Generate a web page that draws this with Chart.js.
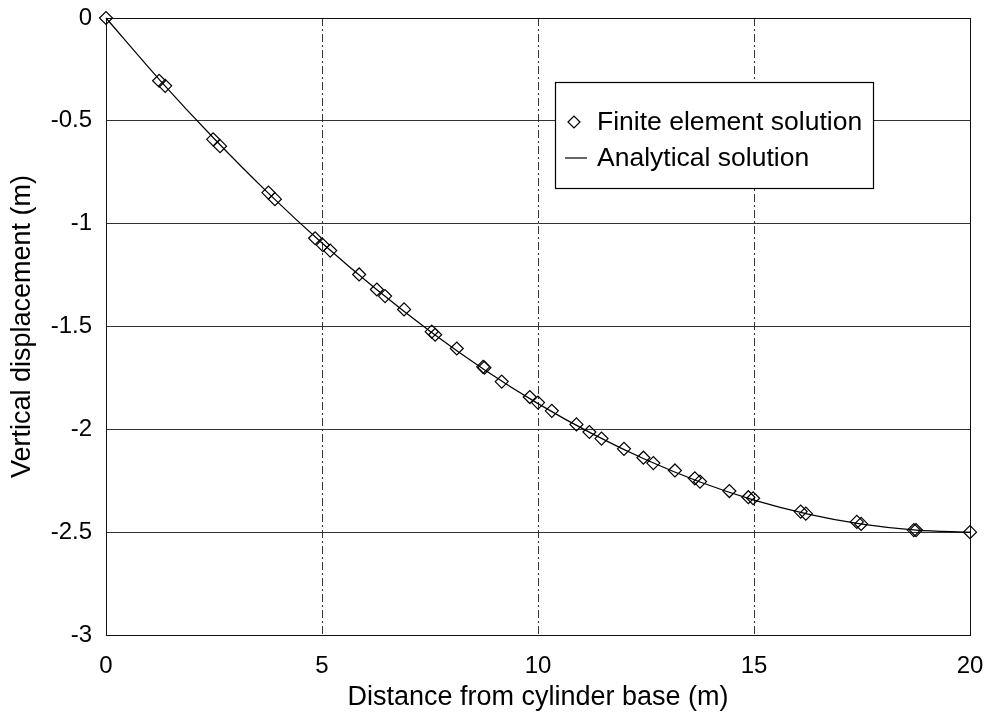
<!DOCTYPE html>
<html>
<head>
<meta charset="utf-8">
<title>Vertical displacement</title>
<script src="https://cdn.jsdelivr.net/npm/chart.js@4.4.1/dist/chart.umd.min.js"></script>
<style>
  body { margin: 0; background: #fff; }
  #wrap { width: 988px; height: 716px; }
</style>
</head>
<body>
<div id="wrap"><canvas id="dispChart" width="988" height="716"></canvas></div>
<script>
// ---- data ----
const feX = [0, 1.23, 1.37, 2.48, 2.64, 3.76, 3.91, 4.84, 5.02, 5.19, 5.86, 6.27, 6.46, 6.90,
  7.54, 7.62, 8.12, 8.73, 8.76, 9.16, 9.81, 10.0, 10.32, 10.89, 11.19, 11.47, 11.99, 12.44,
  12.67, 13.17, 13.63, 13.75, 14.43, 14.87, 14.98, 16.08, 16.20, 17.38, 17.48, 18.70, 18.75, 20];
const feY = [0, -0.305, -0.33, -0.59, -0.623, -0.849, -0.881, -1.071, -1.104, -1.131, -1.247, -1.32, -1.352, -1.417,
  -1.525, -1.54, -1.607, -1.696, -1.70, -1.768, -1.843, -1.87, -1.91, -1.976, -2.013, -2.045, -2.095, -2.138,
  -2.164, -2.20, -2.238, -2.254, -2.30, -2.33, -2.335, -2.40, -2.41, -2.45, -2.46, -2.49, -2.49, -2.5];

const anX = [0, 1.25, 2.5, 3.75, 5, 6.25, 7.5, 8.75, 10, 11.25, 12.5, 13.75, 15, 16.25, 17.5, 18.75, 20];
const anY = [0, -0.303, -0.586, -0.850, -1.094, -1.318, -1.523, -1.709, -1.875, -2.021, -2.148, -2.256,
  -2.344, -2.412, -2.461, -2.490, -2.500];

const xTicks = [0, 5, 10, 15, 20];
const yTicks = [0, -0.5, -1, -1.5, -2, -2.5, -3];

const seriesLabels = ['Finite element solution', 'Analytical solution'];
const xTitle = 'Distance from cylinder base (m)';
const yTitle = 'Vertical displacement (m)';

const FONT = '"Liberation Sans", Arial, Helvetica, sans-serif';

// frame around the plot (top + right edges are solid in the original)
const plotFrame = {
  id: 'plotFrame',
  beforeDatasetsDraw(chart) {
    const { ctx, chartArea: a } = chart;
    ctx.save();
    ctx.strokeStyle = '#111';
    ctx.lineWidth = 1;
    ctx.setLineDash([]);
    ctx.strokeRect(Math.round(a.left) + 0.5, Math.round(a.top) + 0.5,
      Math.round(a.right - a.left), Math.round(a.bottom - a.top));
    ctx.restore();
  }
};

// legend box sitting inside the plot, upper right
const legendBox = {
  id: 'legendBox',
  afterDraw(chart) {
    const ctx = chart.ctx;
    const bx = 555, by = 82, bw = 318, bh = 106;
    ctx.save();
    ctx.fillStyle = '#fff';
    ctx.fillRect(bx, by, bw, bh);
    ctx.strokeStyle = '#000';
    ctx.lineWidth = 1.2;
    ctx.strokeRect(bx + 0.5, by + 0.5, bw, bh);

    // diamond marker
    const mx = 574, my1 = 122, my2 = 158, r = 6;
    ctx.beginPath();
    ctx.moveTo(mx - r, my1);
    ctx.lineTo(mx, my1 - r);
    ctx.lineTo(mx + r, my1);
    ctx.lineTo(mx, my1 + r);
    ctx.closePath();
    ctx.lineWidth = 1.2;
    ctx.stroke();

    // line marker
    ctx.beginPath();
    ctx.moveTo(565, my2);
    ctx.lineTo(587, my2);
    ctx.lineWidth = 1.2;
    ctx.stroke();

    ctx.fillStyle = '#000';
    ctx.font = '26.5px ' + FONT;
    ctx.textBaseline = 'middle';
    ctx.textAlign = 'left';
    ctx.fillText(chart.data.datasets[0].label, 597, my1 + 1);
    ctx.fillText(chart.data.datasets[1].label, 597, my2 + 1);
    ctx.restore();
  }
};

function drawDisplacementChart() {
  const ctx = document.getElementById('dispChart').getContext('2d');

  new Chart(ctx, {
    type: 'scatter',
    data: {
      datasets: [{
        label: seriesLabels[0],
        data: feX.map((x, i) => ({ x: x, y: feY[i] })),
        pointStyle: 'rectRot',
        pointRadius: 6.5,
        pointBorderWidth: 1.2,
        borderColor: '#000',
        backgroundColor: 'rgba(0,0,0,0)',
        showLine: false,
        clip: false,
        order: 1
      }, {
        label: seriesLabels[1],
        data: anX.map((x, i) => ({ x: x, y: anY[i] })),
        showLine: true,
        borderColor: '#000',
        borderWidth: 1.2,
        pointRadius: 0,
        cubicInterpolationMode: 'monotone',
        clip: false,
        order: 2
      }]
    },
    options: {
      responsive: false,
      animation: false,
      events: [],
      layout: { padding: { top: 18, right: 18, left: 0, bottom: 0 } },
      plugins: {
        legend: { display: false },
        tooltip: { enabled: false }
      },
      scales: {
        x: {
          type: 'linear',
          min: 0,
          max: 20,
          afterFit: (s) => { s.height = 81; s.paddingLeft = 0; s.paddingRight = 0; },
          afterBuildTicks: (s) => { s.ticks = xTicks.map(v => ({ value: v })); },
          grid: { color: '#333', lineWidth: 1, drawTicks: false },
          border: { display: true, color: '#111', dash: [8, 3, 2, 3] },
          ticks: {
            color: '#000', padding: 17, font: { family: FONT, size: 24 },
            callback: (v) => String(v)
          },
          title: {
            display: true, text: xTitle, color: '#000',
            font: { family: FONT, size: 27, lineHeight: 1.2 },
            padding: { top: 0, bottom: 2 }
          }
        },
        y: {
          type: 'linear',
          min: -3,
          max: 0,
          afterFit: (s) => { s.width = 106; s.paddingTop = 0; s.paddingBottom = 0; },
          afterBuildTicks: (s) => { s.ticks = yTicks.map(v => ({ value: v })); },
          grid: { color: '#333', lineWidth: 1, drawTicks: false },
          border: { display: true, color: '#111' },
          ticks: {
            color: '#000', padding: 14, font: { family: FONT, size: 24 },
            callback: (v) => String(v)
          },
          title: {
            display: true, text: yTitle, color: '#000',
            font: { family: FONT, size: 27, lineHeight: 1.2 },
            padding: { top: 6, bottom: 0 }
          }
        }
      }
    },
    plugins: [plotFrame, legendBox]
  });
}

document.addEventListener('DOMContentLoaded', () => {
  drawDisplacementChart();
});
</script>
</body>
</html>
